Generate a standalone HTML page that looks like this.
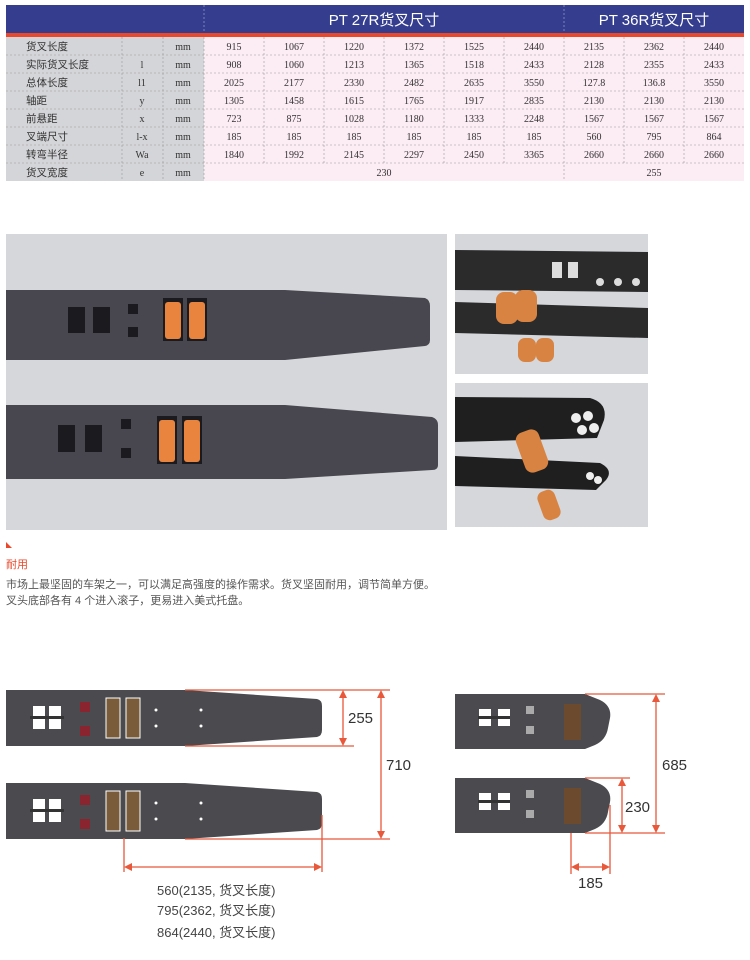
<!DOCTYPE html>
<html><head><meta charset="utf-8"><style>
html,body{margin:0;padding:0;background:#fff;width:750px;height:960px;overflow:hidden}
svg{display:block}
.t{font-family:"Liberation Serif","Noto Serif CJK SC",serif;font-size:10px;fill:#333}
.c{font-family:"Liberation Sans","Noto Sans CJK SC",sans-serif}
</style></head><body>
<svg width="750" height="960" viewBox="0 0 750 960" xmlns="http://www.w3.org/2000/svg">
<!-- table header -->
<rect x="6" y="5" width="738" height="28" fill="#353e8e"/>
<rect x="6" y="33" width="738" height="4" fill="#e8492c"/>
<line x1="204" y1="5" x2="204" y2="33" stroke="#7a80b8" stroke-dasharray="2,2"/>
<line x1="564" y1="5" x2="564" y2="33" stroke="#7a80b8" stroke-dasharray="2,2"/>
<text x="384" y="25" text-anchor="middle" class="c" font-size="15" fill="#fff">PT  27R货叉尺寸</text>
<text x="654" y="25" text-anchor="middle" class="c" font-size="15" fill="#fff">PT  36R货叉尺寸</text>
<!-- body -->
<rect x="6" y="37" width="198" height="144" fill="#d4d5d8"/>
<rect x="204" y="37" width="540" height="144" fill="#fcecf4"/>
<g stroke="#999" stroke-dasharray="2,2" stroke-width="0.6">
<line x1="6" y1="55" x2="744" y2="55"/><line x1="6" y1="73" x2="744" y2="73"/><line x1="6" y1="91" x2="744" y2="91"/>
<line x1="6" y1="109" x2="744" y2="109"/><line x1="6" y1="127" x2="744" y2="127"/><line x1="6" y1="145" x2="744" y2="145"/>
<line x1="6" y1="163" x2="744" y2="163"/>
<line x1="122" y1="37" x2="122" y2="181"/><line x1="163" y1="37" x2="163" y2="181"/><line x1="204" y1="37" x2="204" y2="181"/>
<line x1="264" y1="37" x2="264" y2="163"/><line x1="324" y1="37" x2="324" y2="163"/><line x1="384" y1="37" x2="384" y2="163"/>
<line x1="444" y1="37" x2="444" y2="163"/><line x1="504" y1="37" x2="504" y2="163"/><line x1="564" y1="37" x2="564" y2="181"/>
<line x1="624" y1="37" x2="624" y2="163"/><line x1="684" y1="37" x2="684" y2="163"/>
</g>
<g class="c" font-size="10.5" fill="#333">
<text x="26" y="50">货叉长度</text><text x="26" y="68">实际货叉长度</text><text x="26" y="86">总体长度</text>
<text x="26" y="104">轴距</text><text x="26" y="122">前悬距</text><text x="26" y="140">叉端尺寸</text>
<text x="26" y="158">转弯半径</text><text x="26" y="176">货叉宽度</text>
</g>
<g class="t" text-anchor="middle">
<text x="142" y="68">l</text><text x="142" y="86">l1</text><text x="142" y="104">y</text><text x="142" y="122">x</text>
<text x="142" y="140">l-x</text><text x="142" y="158">Wa</text><text x="142" y="176">e</text>
<text x="183" y="50">mm</text><text x="183" y="68">mm</text><text x="183" y="86">mm</text><text x="183" y="104">mm</text>
<text x="183" y="122">mm</text><text x="183" y="140">mm</text><text x="183" y="158">mm</text><text x="183" y="176">mm</text>
<text x="234" y="50">915</text><text x="294" y="50">1067</text><text x="354" y="50">1220</text><text x="414" y="50">1372</text><text x="474" y="50">1525</text><text x="534" y="50">2440</text><text x="594" y="50">2135</text><text x="654" y="50">2362</text><text x="714" y="50">2440</text>
<text x="234" y="68">908</text><text x="294" y="68">1060</text><text x="354" y="68">1213</text><text x="414" y="68">1365</text><text x="474" y="68">1518</text><text x="534" y="68">2433</text><text x="594" y="68">2128</text><text x="654" y="68">2355</text><text x="714" y="68">2433</text>
<text x="234" y="86">2025</text><text x="294" y="86">2177</text><text x="354" y="86">2330</text><text x="414" y="86">2482</text><text x="474" y="86">2635</text><text x="534" y="86">3550</text><text x="594" y="86">127.8</text><text x="654" y="86">136.8</text><text x="714" y="86">3550</text>
<text x="234" y="104">1305</text><text x="294" y="104">1458</text><text x="354" y="104">1615</text><text x="414" y="104">1765</text><text x="474" y="104">1917</text><text x="534" y="104">2835</text><text x="594" y="104">2130</text><text x="654" y="104">2130</text><text x="714" y="104">2130</text>
<text x="234" y="122">723</text><text x="294" y="122">875</text><text x="354" y="122">1028</text><text x="414" y="122">1180</text><text x="474" y="122">1333</text><text x="534" y="122">2248</text><text x="594" y="122">1567</text><text x="654" y="122">1567</text><text x="714" y="122">1567</text>
<text x="234" y="140">185</text><text x="294" y="140">185</text><text x="354" y="140">185</text><text x="414" y="140">185</text><text x="474" y="140">185</text><text x="534" y="140">185</text><text x="594" y="140">560</text><text x="654" y="140">795</text><text x="714" y="140">864</text>
<text x="234" y="158">1840</text><text x="294" y="158">1992</text><text x="354" y="158">2145</text><text x="414" y="158">2297</text><text x="474" y="158">2450</text><text x="534" y="158">3365</text><text x="594" y="158">2660</text><text x="654" y="158">2660</text><text x="714" y="158">2660</text>
<text x="384" y="176">230</text><text x="654" y="176">255</text>
</g>

<!-- photos -->
<rect x="6" y="234" width="441" height="296" fill="#d5d7da"/>
<path d="M6,290 L285,290 L425,298 Q430,300 430,306 L430,340 Q430,345 425,346 L285,360 L6,360Z" fill="#48464f"/>
<path d="M6,405 L285,405 L432,417 Q438,419 438,425 L438,465 Q438,470 432,470 L285,479 L6,479Z" fill="#48464f"/>
<g fill="#1b1a1e"><rect x="68" y="307" width="17" height="26"/><rect x="93" y="307" width="17" height="26"/><rect x="128" y="304" width="10" height="10"/><rect x="128" y="327" width="10" height="10"/>
<rect x="58" y="425" width="17" height="27"/><rect x="85" y="425" width="17" height="27"/><rect x="121" y="419" width="10" height="10"/><rect x="121" y="448" width="10" height="10"/>
<rect x="163" y="298" width="20" height="43"/><rect x="187" y="298" width="20" height="43"/><rect x="157" y="416" width="20" height="48"/><rect x="182" y="416" width="20" height="48"/></g>
<g fill="#e9843e"><rect x="165" y="302" width="16" height="37" rx="3"/><rect x="189" y="302" width="16" height="37" rx="3"/><rect x="159" y="420" width="16" height="42" rx="3"/><rect x="184" y="420" width="16" height="42" rx="3"/></g>
<rect x="455" y="234" width="193" height="140" fill="#d5d7da"/>
<rect x="455" y="383" width="193" height="144" fill="#d5d7da"/>
<path d="M455,250 L648,252 L648,292 L455,290Z" fill="#2b2b2c"/>
<path d="M455,302 L648,308 L648,338 L455,333Z" fill="#2b2b2c"/>
<g fill="#d88342"><rect x="496" y="292" width="22" height="32" rx="8"/><rect x="515" y="290" width="22" height="32" rx="8"/><rect x="518" y="338" width="18" height="24" rx="7"/><rect x="536" y="338" width="18" height="24" rx="7"/></g>
<g fill="#ddd"><rect x="552" y="262" width="10" height="16"/><rect x="568" y="262" width="10" height="16"/><circle cx="600" cy="282" r="4"/><circle cx="618" cy="282" r="4"/><circle cx="636" cy="282" r="4"/></g>
<path d="M455,397 L590,398 Q608,403 604,420 L597,438 L455,442Z" fill="#1f1f20"/>
<path d="M455,456 L600,463 Q614,470 606,480 L596,490 L455,486Z" fill="#1f1f20"/>
<g fill="#d88342"><rect x="520" y="430" width="24" height="42" rx="8" transform="rotate(-20 532 451)"/><rect x="540" y="490" width="18" height="30" rx="7" transform="rotate(-20 549 505)"/></g>
<g fill="#eee"><circle cx="576" cy="418" r="5"/><circle cx="588" cy="416" r="5"/><circle cx="582" cy="430" r="5"/><circle cx="594" cy="428" r="5"/><circle cx="590" cy="476" r="4"/><circle cx="598" cy="480" r="4"/></g>

<!-- text -->
<path d="M6,542 L12,548 L6,548Z" fill="#e8492c"/>
<text x="6" y="568" class="c" font-size="11" fill="#e8492c">耐用</text>
<text x="6" y="588" class="c" font-size="11" fill="#555">市场上最坚固的车架之一，可以满足高强度的操作需求。货叉坚固耐用，调节简单方便。</text>
<text x="6" y="604" class="c" font-size="11" fill="#555">叉头底部各有 4 个进入滚子，更易进入美式托盘。</text>

<!-- left diagram -->
<g id="lf">
<path d="M6,690 L185,690 L317,699 Q322,700 322,706 L322,730 Q322,736 317,737 L185,746 L6,746Z" fill="#4a4a4f"/>
<rect x="33" y="706" width="12" height="23" fill="#fff"/><rect x="49" y="706" width="12" height="23" fill="#fff"/>
<rect x="30" y="716" width="34" height="3" fill="#333"/>
<rect x="80" y="702" width="10" height="10" fill="#8a2530"/><rect x="80" y="726" width="10" height="10" fill="#8a2530"/>
<rect x="106" y="698" width="14" height="40" fill="#7a5c3a" stroke="#fff"/><rect x="126" y="698" width="14" height="40" fill="#7a5c3a" stroke="#fff"/>
<circle cx="156" cy="710" r="1.5" fill="#fff"/><circle cx="156" cy="726" r="1.5" fill="#fff"/><circle cx="201" cy="710" r="1.5" fill="#fff"/><circle cx="201" cy="726" r="1.5" fill="#fff"/>
</g>
<use href="#lf" y="93"/>
<g stroke="#e8583a" stroke-width="1.3" fill="none">
<line x1="185" y1="690" x2="390" y2="690"/><line x1="185" y1="746" x2="354" y2="746"/><line x1="185" y1="839" x2="390" y2="839"/>
<line x1="343" y1="695" x2="343" y2="741"/><line x1="381" y1="695" x2="381" y2="834"/>
<line x1="124" y1="838" x2="124" y2="872"/><line x1="322" y1="815" x2="322" y2="872"/>
<line x1="128" y1="867" x2="318" y2="867"/>
</g>
<g fill="#e8583a">
<path d="M343,690 L339,698 L347,698Z"/><path d="M343,746 L339,738 L347,738Z"/>
<path d="M381,690 L377,698 L385,698Z"/><path d="M381,839 L377,831 L385,831Z"/>
<path d="M124,867 L132,863 L132,871Z"/><path d="M322,867 L314,863 L314,871Z"/>
</g>
<g class="c" font-size="15" fill="#333"><text x="348" y="723">255</text><text x="386" y="770">710</text></g>
<g class="c" font-size="13" fill="#444"><text x="157" y="895">560(2135, 货叉长度)</text><text x="157" y="915">795(2362, 货叉长度)</text><text x="157" y="937">864(2440, 货叉长度)</text></g>

<!-- right diagram -->
<g id="rf">
<path d="M455,694 L585,694 L600,700 Q612,706 610,718 L608,728 Q606,740 595,745 L585,749 L455,749Z" fill="#4a4a4f"/>
<rect x="479" y="709" width="12" height="17" fill="#fff"/><rect x="498" y="709" width="12" height="17" fill="#fff"/>
<rect x="478" y="716" width="32" height="3" fill="#333"/>
<rect x="526" y="706" width="8" height="8" fill="#aaa"/><rect x="526" y="726" width="8" height="8" fill="#aaa"/>
<rect x="564" y="704" width="17" height="36" fill="#6b4a2e"/>
</g>
<use href="#rf" y="84"/>
<g stroke="#e8583a" stroke-width="1.3" fill="none">
<line x1="585" y1="694" x2="665" y2="694"/><line x1="585" y1="778" x2="630" y2="778"/><line x1="585" y1="833" x2="665" y2="833"/>
<line x1="622" y1="782" x2="622" y2="829"/><line x1="656" y1="698" x2="656" y2="829"/>
<line x1="571" y1="833" x2="571" y2="874"/><line x1="610" y1="805" x2="610" y2="874"/><line x1="575" y1="867" x2="606" y2="867"/>
</g>
<g fill="#e8583a">
<path d="M622,778 L618,786 L626,786Z"/><path d="M622,833 L618,825 L626,825Z"/>
<path d="M656,694 L652,702 L660,702Z"/><path d="M656,833 L652,825 L660,825Z"/>
<path d="M571,867 L579,863 L579,871Z"/><path d="M610,867 L602,863 L602,871Z"/>
</g>
<g class="c" font-size="15" fill="#333"><text x="625" y="812">230</text><text x="662" y="770">685</text><text x="578" y="888">185</text></g>
</svg>
</body></html>
